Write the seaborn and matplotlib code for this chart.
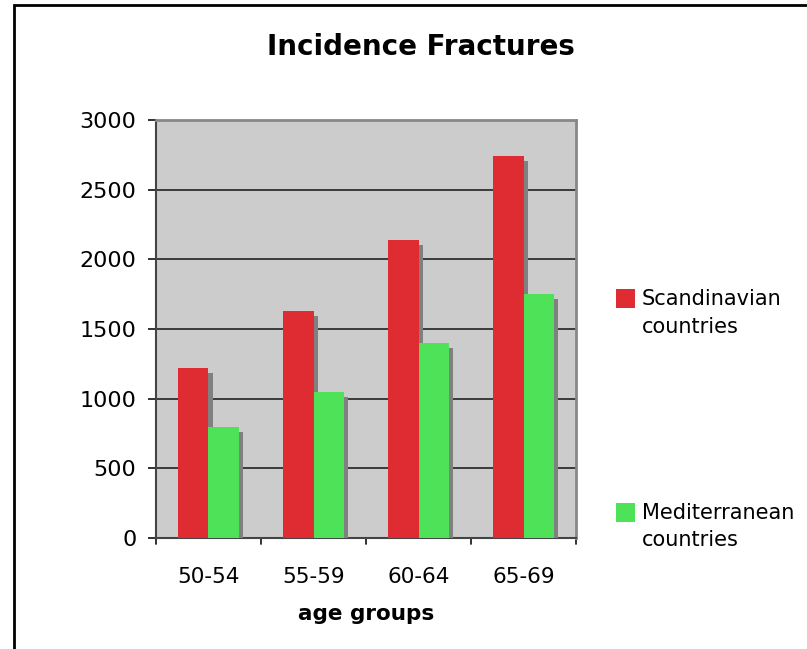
import matplotlib
matplotlib.use("Agg")
import matplotlib.pyplot as plt
import matplotlib.patheffects as pe
from matplotlib.patches import Rectangle, Patch
from matplotlib.legend_handler import HandlerPatch
import seaborn as sns
import pandas as pd

age_groups = ["50-54", "55-59", "60-64", "65-69"]
scandinavian = [1220, 1630, 2140, 2740]
mediterranean = [800, 1050, 1400, 1750]
series = ["Scandinavian\ncountries", "Mediterranean\ncountries"]
colors = ["#DF2C33", "#4DE258"]
y_ticks = [0, 500, 1000, 1500, 2000, 2500, 3000]


def top_square(legend, orig_handle, xdescent, ydescent, width, height, fontsize):
    # put the square beside the first text line, not the middle of two lines
    size = 0.9 * fontsize
    return Rectangle((-xdescent, -ydescent + height / 2 - size / 2 + 0.74 * fontsize),
                     size, size)


def main():
    df = pd.DataFrame({
        "age": age_groups * 2,
        "value": scandinavian + mediterranean,
        "series": [series[0]] * 4 + [series[1]] * 4,
    })

    sns.set_style("white")
    plt.rcParams["font.family"] = ["DejaVu Sans"]
    plt.rcParams["text.color"] = "black"
    plt.rcParams["xtick.color"] = "black"
    plt.rcParams["ytick.color"] = "black"
    plt.rcParams["axes.labelcolor"] = "black"

    fig = plt.figure(figsize=(8.07, 6.49), dpi=100)
    ax = fig.add_axes([0.1933, 0.171, 0.5205, 0.644])
    ax.set_facecolor("#CCCCCC")

    sns.barplot(data=df, x="age", y="value", hue="series",
                palette=colors, width=0.58, gap=0,
                saturation=1, ax=ax, zorder=3, legend=False)

    shadow = [pe.SimplePatchShadow(offset=(3, -3.6), shadow_rgbFace="#808080",
                                   alpha=1.0), pe.Normal()]
    for bar in ax.patches:
        bar.set_path_effects(shadow)
        bar.set_edgecolor("none")

    ax.set_ylim(0, 3000)
    ax.set_xlim(-0.5, 3.5)
    ax.set_yticks(y_ticks)
    ax.set_yticklabels([str(v) for v in y_ticks], fontsize=16)
    ax.yaxis.grid(True, color="#222222", linewidth=1.2, zorder=1)
    ax.set_axisbelow(True)

    ax.set_xticks(range(4))
    ax.set_xticklabels(age_groups, fontsize=15.5)
    ax.tick_params(axis="x", length=0, pad=21)
    for pos in [-0.5, 0.5, 1.5, 2.5, 3.5]:
        ax.plot([pos, pos], [0, -0.014], transform=ax.get_xaxis_transform(),
                color="#222222", linewidth=1.3, clip_on=False)
    ax.tick_params(axis="y", left=True, length=6, width=1.3,
                   color="#222222", pad=8)

    ax.set_xlabel("age groups", fontsize=15.5, fontweight="bold", labelpad=12)
    ax.set_ylabel("")

    for side in ["top", "right"]:
        ax.spines[side].set_color("#888888")
        ax.spines[side].set_linewidth(2)
    for side in ["left", "bottom"]:
        ax.spines[side].set_color("#444444")
        ax.spines[side].set_linewidth(1.5)

    handles = [Patch(facecolor=c, edgecolor="none") for c in colors]
    leg = ax.legend(handles, series, loc="upper left", bbox_to_anchor=(1.07, 0.62),
                    frameon=False, fontsize=15, handlelength=0.9, handleheight=0.9,
                    handletextpad=0.35, labelspacing=8.0, borderpad=0,
                    handler_map={Patch: HandlerPatch(patch_func=top_square)})
    for t in leg.get_texts():
        t.set_linespacing(1.45)

    fig.text(0.522, 0.928, "Incidence Fractures", ha="center", va="center",
             fontsize=20, fontweight="bold")

    fig.patches.append(Rectangle((14 / 807, -0.01), 1.0, 1 - 5 / 649 + 0.01,
                                 transform=fig.transFigure, fill=False,
                                 edgecolor="black", linewidth=2))

    fig.savefig("out.png", dpi=100)


if __name__ == "__main__":
    main()
